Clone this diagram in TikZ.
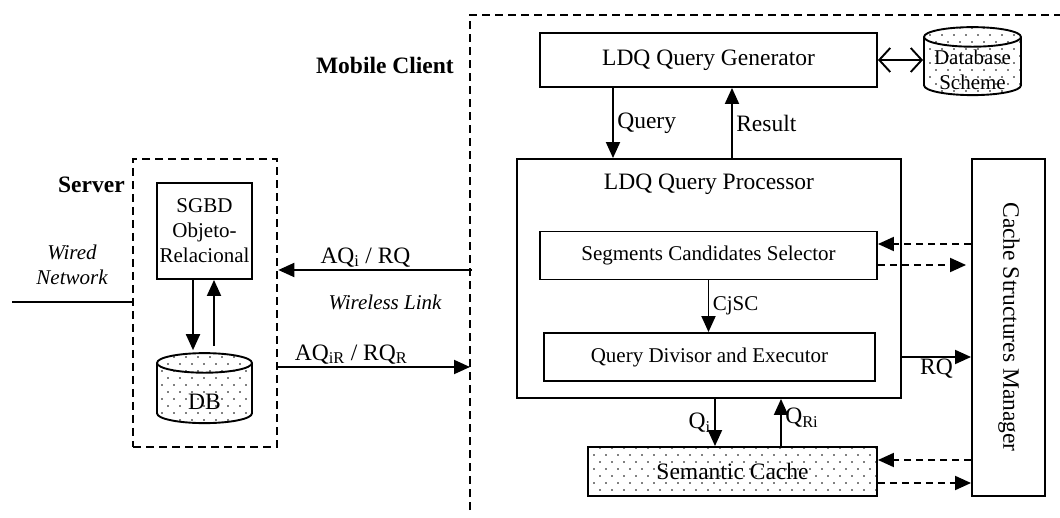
\documentclass[tikz,border=0pt]{standalone}
\usepackage{fontspec}
\setmainfont{Liberation Serif}
\usetikzlibrary{positioning, arrows.meta, shapes.geometric, patterns.meta}

% sparse staggered dots for the stores
\pgfdeclarepattern{
  name=sparsedots,
  type=uncolored,
  bottom left={\pgfpoint{-1pt}{-1pt}},
  top right={\pgfpoint{11pt}{13pt}},
  tile size={\pgfpoint{12pt}{14pt}},
  code={
    \pgfpathcircle{\pgfpoint{0pt}{0pt}}{0.9pt}
    \pgfpathcircle{\pgfpoint{6pt}{7pt}}{0.9pt}
    \pgfusepath{fill}
  }
}

\begin{document}
\begin{tikzpicture}[
  x=1pt, y=-1pt,
  line width=1.9pt,
  font=\fontsize{23.5}{27}\selectfont,
  small/.style={font=\fontsize{21}{25}\selectfont},
  box/.style={draw, align=center, inner sep=0pt},
  dotted fill/.style={pattern=sparsedots, pattern color=black},
  store/.style={draw, cylinder, shape border rotate=90, aspect=0.6,
                dotted fill, inner sep=0pt},
  zone/.style={draw, line width=2.6pt, dash pattern=on 8pt off 5pt},
  arrow/.style={-{Triangle[length=16pt, width=14pt]}},
  dasharrow/.style={arrow, dash pattern=on 7pt off 5pt},
  duplex/.style={{Straight Barb[length=11pt, width=24pt]}-{Straight Barb[length=11pt, width=24pt]}}
]
\useasboundingbox (0,0) rectangle (1060,518);

% ── Server side ───────────────────────────────────────────
\node[zone, minimum width=144pt, minimum height=288pt] (srv) at (205,303) {};
\node[font=\fontsize{23.5}{27}\selectfont\bfseries, anchor=east] (srvlbl) at (129,185) {Server};
\node[box, small, minimum width=95pt, minimum height=96pt] (sgbd) at (204.5,231)
     {SGBD\\Objeto-\\Relacional};
\node[store, minimum width=95pt, minimum height=70pt] (db) at (204.5,393.5) {\phantom{DB}};
\node (dbtext) at (204.5,402) {DB};
\node[small, align=center, font=\fontsize{21}{25}\selectfont\itshape] (wired) at (72,265) {Wired\\Network};
\coordinate (wireend) at (12,302);

% ── Mobile client ─────────────────────────────────────────
\draw[zone] (470,510) -- (470,15) -- (1064,15);
\node[font=\fontsize{23.5}{27}\selectfont\bfseries, anchor=east] (mclbl) at (458,65) {Mobile Client};
\node[box, minimum width=337pt, minimum height=54pt] (gen) at (708.5,60) {LDQ Query Generator};
\node[store, minimum width=97pt, minimum height=68pt] (schema) at (972.5,66.5) {\phantom{DB}};
\node[small, align=center, inner sep=0pt] (schematext) at (972.5,70) {Database\\Scheme};
\node[box, minimum width=384pt, minimum height=239pt] (proc) at (709,278.5) {};
\node (proctitle) at (709,184) {LDQ Query Processor};
\node[box, small, minimum width=337pt, minimum height=48pt] (sel) at (708.5,255.5)
     {Segments Candidates Selector};
\node[box, small, minimum width=331pt, minimum height=48pt] (exec) at (709.5,357)
     {Query Divisor and Executor};
\node[box, dotted fill, minimum width=289pt, minimum height=49pt] (cache) at (732.5,471.5)
     {Semantic Cache};
\node[box, minimum width=73pt, minimum height=337pt] (csm) at (1008.5,327.5) {};
\node[rotate=-90] (csmtitle) at (1009,327) {Cache Structures Manager};

% ── Wireless link ─────────────────────────────────────────
\coordinate (aqfrom) at (472,270);
\coordinate (aqrto)  at (470,367);
\node[small, font=\fontsize{21}{25}\selectfont\itshape] (wless) at (385,302) {Wireless Link};

% ── Arrows ────────────────────────────────────────────────
\draw (wireend) -- (wireend -| srv.west);
\draw[arrow] ([xshift=-11.5pt]sgbd.south) -- ([xshift=-11.5pt, yshift=2pt]sgbd.south |- db.north);
\draw[arrow] ([xshift=9.5pt]sgbd.south |- db.north) ++(0,-6) -- ([xshift=9.5pt]sgbd.south);

\draw[arrow] (aqfrom) -- node[pos=0.55, above, inner sep=2pt] {AQ\textsubscript{i} / RQ} (aqfrom -| srv.east);
\draw[arrow] (srv.east |- aqrto) -- node[pos=0.38, above, inner sep=2pt] {AQ\textsubscript{iR} / RQ\textsubscript{R}} (aqrto);

\draw[duplex] (gen.east) -- (schema.west |- gen.east);
\draw[arrow] ([xshift=-95.5pt]gen.south) -- node[right] {Query} ([xshift=-95.5pt]gen.south |- proc.north);
\draw[arrow] ([xshift=23.5pt]gen.south |- proc.north) -- node[right] {Result} ([xshift=23.5pt]gen.south);
\draw[arrow] (sel.south) -- node[right, small] {CjSC} (sel.south |- exec.north);
\draw[arrow] ([xshift=6pt]proc.south) -- node[left] {Q\textsubscript{i}} ([xshift=6pt]proc.south |- cache.north);
\draw[arrow] ([xshift=72pt]proc.south |- cache.north) -- node[right, yshift=5pt] {Q\textsubscript{Ri}} ([xshift=72pt]proc.south);
\draw[arrow] (proc.east |- exec) -- node[below, inner sep=1pt] {RQ} (csm.west |- exec);

\draw[dasharrow] ([yshift=11.5pt]sel.east -| csm.west) -- ([yshift=11.5pt]sel.east);
\draw[dasharrow, shorten >=5pt] ([yshift=-9.5pt]sel.east) -- ([yshift=-9.5pt]sel.east -| csm.west);
\draw[dasharrow] ([yshift=11.5pt]cache.east -| csm.west) -- ([yshift=11.5pt]cache.east);
\draw[dasharrow] ([yshift=-11.5pt]cache.east) -- ([yshift=-11.5pt]cache.east -| csm.west);

\end{tikzpicture}
\end{document}
